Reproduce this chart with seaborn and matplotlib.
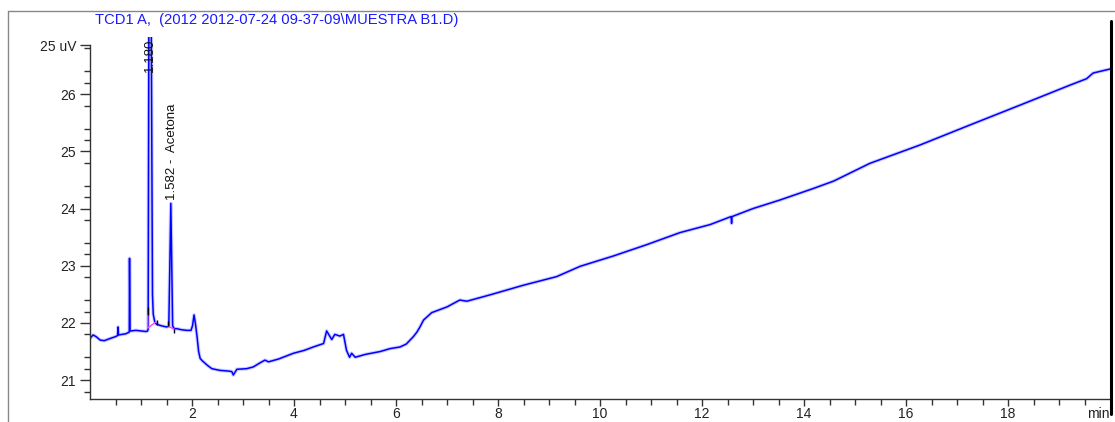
import matplotlib
matplotlib.use("Agg")
import matplotlib.pyplot as plt
from matplotlib.lines import Line2D
import seaborn as sns
import pandas as pd

# ---- data (retention time in min, signal in uV) ----
time_min = [0.00, 0.06, 0.12, 0.20, 0.28, 0.40, 0.50, 0.54, 0.55, 0.56, 0.70, 0.77,
            0.775, 0.785, 0.80, 0.90, 1.00, 1.10, 1.13,
            1.14, 1.155, 1.20, 1.225, 1.24, 1.27, 1.30, 1.40, 1.50, 1.545,
            1.565, 1.585, 1.60, 1.62, 1.65, 1.70, 1.80, 1.90, 1.98, 2.01, 2.04,
            2.07, 2.10, 2.13, 2.16, 2.20, 2.30, 2.39, 2.55, 2.70, 2.78, 2.81, 2.88,
            3.07, 3.20, 3.33, 3.43, 3.50, 3.70, 3.99, 4.20, 4.38, 4.58, 4.64, 4.74,
            4.80, 4.90, 4.97, 5.03, 5.09, 5.13, 5.20, 5.40, 5.69, 5.88, 6.08, 6.20,
            6.34, 6.41, 6.47, 6.54, 6.70, 7.00, 7.25, 7.39, 7.84, 8.50, 9.15, 9.61,
            10.26, 10.92, 11.57, 12.16, 12.57, 12.58, 12.59, 13.00, 13.53, 14.18,
            14.58, 15.29, 16.27, 17.25, 18.24, 19.22, 19.54, 19.67, 20.00]
signal_uv = [21.73, 21.79, 21.76, 21.70, 21.69, 21.73, 21.76, 21.78, 21.93, 21.79, 21.81, 21.84,
             23.13, 21.86, 21.86, 21.87, 21.86, 21.85, 21.86,
             21.90, 27.50, 27.50, 22.50, 22.15, 22.02, 21.98, 21.95, 21.93, 21.94,
             23.00, 24.09, 23.20, 21.95, 21.90, 21.90, 21.88, 21.87, 21.87, 21.95, 22.14,
             21.97, 21.75, 21.50, 21.38, 21.34, 21.26, 21.20, 21.17, 21.16, 21.15, 21.09, 21.19,
             21.20, 21.23, 21.30, 21.35, 21.32, 21.37, 21.47, 21.52, 21.58, 21.64, 21.86, 21.71,
             21.80, 21.77, 21.80, 21.52, 21.40, 21.47, 21.40, 21.45, 21.50, 21.55, 21.58, 21.63,
             21.76, 21.84, 21.93, 22.05, 22.18, 22.28, 22.40, 22.38, 22.49, 22.66, 22.81, 22.99,
             23.17, 23.37, 23.58, 23.72, 23.86, 23.74, 23.86, 24.00, 24.15, 24.35,
             24.48, 24.79, 25.11, 25.46, 25.81, 26.16, 26.27, 26.37, 26.44]

# integration baselines (pink) and peak delimiters (black)
baseline_t = [[1.131, 1.131, 1.294], [1.535, 1.653]]
baseline_v = [[22.14, 21.91, 22.02], [21.94, 21.89]]
delim_t = [1.131, 1.308, 1.535, 1.653]
delim_lo = [22.14, 21.96, 21.94, 21.82]
delim_hi = [22.28, 22.05, 22.03, 21.89]

# peak annotations
peak_t = [1.18, 1.61]
peak_label_v = [26.38, 24.15]
peak_labels = ["1.180", "1.582 -  Acetona"]

x_major = [2, 4, 6, 8, 10, 12, 14, 16, 18]
x_labels = ["2", "4", "6", "8", "10", "12", "14", "16", "18"]
y_major = [21, 22, 23, 24, 25, 26, 26.86]
y_labels = ["21", "22", "23", "24", "25", "26", "25 uV"]
title_text = "TCD1 A,  (2012 2012-07-24 09-37-09\\MUESTRA B1.D)"

# ---- style ----
sns.set_style("ticks")
plt.rcParams["font.family"] = ["Liberation Sans", "DejaVu Sans"]

W, H = 1115, 422
fig = plt.figure(figsize=(W / 100, H / 100), dpi=100)
ax = fig.add_axes([90 / W, 1 - 399 / H, (1110 - 90) / W, (399 - 37) / H])

df = pd.DataFrame({"t": time_min, "v": signal_uv})
# soft halo to mimic the noisy trace, then the trace itself
sns.lineplot(data=df, x="t", y="v", ax=ax, estimator=None, sort=False,
             color="#8080ff", linewidth=2.6, alpha=0.4)
sns.lineplot(data=df, x="t", y="v", ax=ax, estimator=None, sort=False,
             color="#0000ff", linewidth=1.1)

for bt, bv in zip(baseline_t, baseline_v):
    ax.plot(bt, bv, color="#ff44ff", linewidth=1.0)
ax.vlines(delim_t, delim_lo, delim_hi, color="black", linewidth=1.0)

for t, v, lab in zip(peak_t, peak_label_v, peak_labels):
    ax.text(t, v, lab, rotation=90, ha="center", va="bottom",
            fontsize=9.5, color="#111111", zorder=5)

ax.set_xlim(0, 20)
ax.set_ylim(20.67, 27.0)
ax.set_xticks(x_major)
ax.set_xticklabels(x_labels)
ax.set_xticks([v * 0.5 for v in range(1, 40) if v % 4 != 0], minor=True)
ax.set_yticks(y_major)
ax.set_yticklabels(y_labels)
ax.set_yticks([20.8 + 0.2 * i for i in range(31) if (i + 1) % 5 != 0 and 20.8 + 0.2 * i < 26.85], minor=True)
ax.text(19.78, -0.022, "min", transform=ax.get_xaxis_transform(),
        ha="center", va="top", fontsize=10, color="#222222")

ax.set_xlabel("")
ax.set_ylabel("")
ax.spines["top"].set_visible(False)
ax.spines["right"].set_visible(False)
for s in ("left", "bottom"):
    ax.spines[s].set_color("#333333")
    ax.spines[s].set_linewidth(1.0)
ax.spines["left"].set_bounds(20.67, 26.86)
ax.tick_params(axis="y", which="major", direction="out", length=7, width=1,
               color="#333333", labelsize=10, labelcolor="#222222", pad=3)
ax.tick_params(axis="x", which="major", direction="out", length=5, width=1,
               color="#333333", labelsize=10, labelcolor="#222222", pad=1)
ax.tick_params(axis="both", which="minor", direction="out", length=4, width=1,
               color="#333333")

# title and outer frame
fig.text(95 / W, 1 - 20 / H, title_text, color="#1a1aff", fontsize=10.6,
         ha="left", va="center")
fig.add_artist(Line2D([8 / W, 8 / W], [0, 1 - 11 / H], color="#888888", linewidth=1.0))
fig.add_artist(Line2D([8 / W, 1], [1 - 11 / H, 1 - 11 / H], color="#888888", linewidth=1.0))
fig.add_artist(Line2D([1111 / W, 1111 / W], [0.02, 1 - 21 / H], color="black", linewidth=2.2))

fig.savefig("out.png", dpi=100)
